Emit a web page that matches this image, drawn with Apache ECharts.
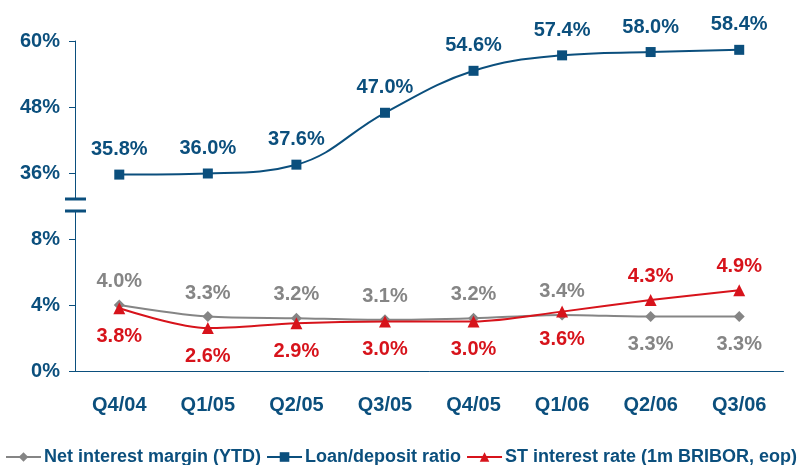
<!DOCTYPE html>
<html>
<head>
<meta charset="utf-8">
<script src="https://cdn.jsdelivr.net/npm/echarts@6/dist/echarts.min.js"></script>
<style>
  html, body { margin: 0; padding: 0; background: #fff; }
  #chart { width: 807px; height: 465px; }
</style>
</head>
<body>
<div id="chart"></div>
<script>
// quarters on the x axis
var quarters = ['Q4/04', 'Q1/05', 'Q2/05', 'Q3/05', 'Q4/05', 'Q1/06', 'Q2/06', 'Q3/06'];
// values in %
var loanDeposit = [35.8, 36.0, 37.6, 47.0, 54.6, 57.4, 58.0, 58.4];
var netMargin   = [4.0, 3.3, 3.2, 3.1, 3.2, 3.4, 3.3, 3.3];
var stRate      = [3.8, 2.6, 2.9, 3.0, 3.0, 3.6, 4.3, 4.9];
// label side for the two lower series (true = above the point)
var marginAbove = [true, true, true, true, true, true, false, false];
var rateAbove   = [false, false, false, false, false, false, true, true];
var topTicks = [36, 48, 60];
var lowTicks = [0, 4, 8];

var BLUE = '#0b4f7d', RED = '#d7131b', GREY = '#858585';
var FONT = 'Liberation Sans, Arial, sans-serif';

function lbl(color) {
    return {show: true, color: color, fontFamily: FONT, fontWeight: 'bold', fontSize: 20,
            formatter: p => p.value.toFixed(1) + '%'};
}

function pts(arr, above) {
    return arr.map((v, i) => ({
        value: v,
        label: above[i] ? {position: 'top', distance: 8} : {position: 'bottom', distance: 12}
    }));
}

var chart = echarts.init(document.getElementById('chart'));
chart.setOption({
    animation: false,
    grid: [
        {left: 75, width: 708.5, top: 41, height: 158},
        {left: 75, width: 708.5, top: 211, height: 160}
    ],
    xAxis: [
        {gridIndex: 0, type: 'category', data: quarters, show: false},
        {gridIndex: 1, type: 'category', data: quarters,
         axisLine: {lineStyle: {color: BLUE, width: 1}},
         axisTick: {length: 7, lineStyle: {color: BLUE}},
         axisLabel: {color: BLUE, fontFamily: FONT, fontWeight: 'bold', fontSize: 20, margin: 24}}
    ],
    yAxis: [
        {gridIndex: 0, type: 'value', min: 31.38, max: 60,
         splitLine: {show: false},
         axisLine: {show: true, lineStyle: {color: BLUE, width: 1}},
         axisTick: {show: true, length: 6, customValues: topTicks, lineStyle: {color: BLUE}},
         axisLabel: {customValues: topTicks, color: BLUE, fontFamily: FONT, fontWeight: 'bold',
                     fontSize: 20, margin: 15, formatter: v => v + '%'}},
        {gridIndex: 1, type: 'value', min: 0, max: 9.7,
         splitLine: {show: false},
         axisLine: {show: true, lineStyle: {color: BLUE, width: 1}},
         axisTick: {show: true, length: 6, customValues: lowTicks, lineStyle: {color: BLUE}},
         axisLabel: {customValues: lowTicks, color: BLUE, fontFamily: FONT, fontWeight: 'bold',
                     fontSize: 20, margin: 15, formatter: v => v + '%'}}
    ],
    legend: {
        left: 5, top: 448, width: 1200, padding: 0,
        itemWidth: 35, itemHeight: 12, itemGap: 5,
        textStyle: {color: BLUE, fontFamily: FONT, fontWeight: 'bold', fontSize: 18, padding: [0, 0, 0, -2]},
        data: ['Net interest margin (YTD)', 'Loan/deposit ratio', 'ST interest rate (1m BRIBOR, eop)']
    },
    graphic: [
        // axis break marks
        {type: 'rect', shape: {x: 65, y: 197.5, width: 21, height: 3}, style: {fill: BLUE}},
        {type: 'rect', shape: {x: 65, y: 209.5, width: 21, height: 3}, style: {fill: BLUE}}
    ],
    series: [
        {name: 'Net interest margin (YTD)', type: 'line', xAxisIndex: 1, yAxisIndex: 1,
         data: pts(netMargin, marginAbove), smooth: 0.3,
         symbol: 'diamond', symbolSize: 11,
         lineStyle: {color: GREY, width: 2}, itemStyle: {color: GREY},
         label: lbl(GREY), z: 2},
        {name: 'Loan/deposit ratio', type: 'line', xAxisIndex: 0, yAxisIndex: 0,
         data: loanDeposit, smooth: 0.4,
         symbol: 'rect', symbolSize: 10,
         lineStyle: {color: BLUE, width: 2}, itemStyle: {color: BLUE},
         label: Object.assign(lbl(BLUE), {position: 'top', distance: 10})},
        {name: 'ST interest rate (1m BRIBOR, eop)', type: 'line', xAxisIndex: 1, yAxisIndex: 1,
         data: pts(stRate, rateAbove), smooth: 0.3,
         symbol: 'triangle', symbolSize: 12,
         lineStyle: {color: RED, width: 2}, itemStyle: {color: RED},
         label: lbl(RED), z: 3}
    ]
});
</script>
</body>
</html>
